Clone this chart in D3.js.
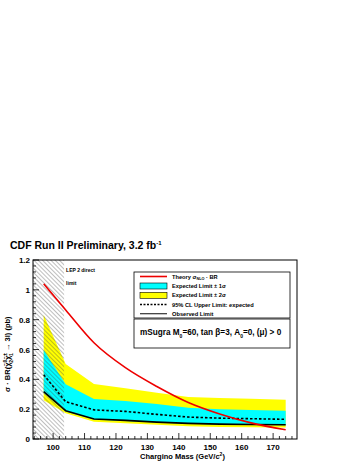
<!DOCTYPE html>
<html>
<head>
<meta charset="utf-8">
<script src="https://cdn.jsdelivr.net/npm/d3@7"></script>
<style>
  body { margin: 0; background: #fff; }
  text { font-family: "Liberation Sans", Arial, sans-serif; font-weight: bold; }
</style>
</head>
<body>
<div id="chart"></div>
<script>
// chargino masses where limits were computed
const mass = [97, 104, 113, 123, 133, 143, 153, 163, 174];
const observed = [0.318, 0.19, 0.134, 0.125, 0.113, 0.105, 0.1, 0.097, 0.096];
const expected = [0.43, 0.25, 0.195, 0.185, 0.165, 0.147, 0.14, 0.136, 0.132];
const oneSigmaLow = [0.31, 0.185, 0.13, 0.12, 0.11, 0.102, 0.097, 0.094, 0.093];
const oneSigmaHigh = [0.597, 0.367, 0.268, 0.255, 0.235, 0.21, 0.2, 0.195, 0.19];
const twoSigmaLow = [0.26, 0.172, 0.116, 0.105, 0.095, 0.086, 0.08, 0.078, 0.077];
const twoSigmaHigh = [0.832, 0.503, 0.369, 0.34, 0.31, 0.282, 0.275, 0.27, 0.263];

// theory cross section x BR
const theoryMass = [97, 104, 113, 123, 133, 143, 153, 163, 174];
const theory = [1.04, 0.865, 0.645, 0.478, 0.352, 0.245, 0.168, 0.108, 0.062];

const lepLimit = 103.5;
const yTicks = [0, 0.2, 0.4, 0.6, 0.8, 1, 1.2];
const xTicks = [100, 110, 120, 130, 140, 150, 160, 170];

// Set up chart dimensions
const W = 357, H = 462;
const margin = { top: 260, right: 60, bottom: 23, left: 33 };
const width = W - margin.left - margin.right;
const height = H - margin.top - margin.bottom;

const svg = d3.select("#chart").append("svg")
    .attr("width", W)
    .attr("height", H);

// hatch pattern for the LEP region
const defs = svg.append("defs");
const pat = defs.append("pattern")
    .attr("id", "hatch")
    .attr("patternUnits", "userSpaceOnUse")
    .attr("width", 3).attr("height", 3)
    .attr("patternTransform", "rotate(-45)");
pat.append("line")
    .attr("x1", 0).attr("y1", 0).attr("x2", 0).attr("y2", 3)
    .attr("stroke", "#444").attr("stroke-width", 0.7);

const g = svg.append("g")
    .attr("transform", "translate(" + margin.left + "," + margin.top + ")");

// Set up scales
const x = d3.scaleLinear().domain([93.6, 177.6]).range([0, width]);
const y = d3.scaleLinear().domain([0, 1.2]).range([height, 0]);

const pts = mass.map((m, i) => ({ m, i }));

function band(lo, hi) {
    return d3.area()
        .x(d => x(d.m))
        .y0(d => y(lo[d.i]))
        .y1(d => y(hi[d.i]));
}

g.append("path").datum(pts).attr("d", band(twoSigmaLow, twoSigmaHigh)).attr("fill", "#ffff00");
g.append("path").datum(pts).attr("d", band(oneSigmaLow, oneSigmaHigh)).attr("fill", "#00ffff");

// expected (dashed) and observed lines
g.append("path").datum(pts)
    .attr("d", d3.line().x(d => x(d.m)).y(d => y(expected[d.i])))
    .attr("fill", "none").attr("stroke", "#000").attr("stroke-width", 1.6)
    .attr("stroke-dasharray", "2.5,2");
g.append("path").datum(pts)
    .attr("d", d3.line().x(d => x(d.m)).y(d => y(observed[d.i])))
    .attr("fill", "none").attr("stroke", "#000").attr("stroke-width", 1.6);

// LEP hatched region
g.append("rect")
    .attr("x", 0).attr("y", 0)
    .attr("width", x(lepLimit)).attr("height", height)
    .attr("fill", "url(#hatch)");

// theory curve
g.append("path").datum(theoryMass.map((m, i) => ({ m, v: theory[i] })))
    .attr("d", d3.line().x(d => x(d.m)).y(d => y(d.v)).curve(d3.curveMonotoneX))
    .attr("fill", "none").attr("stroke", "#ee0000").attr("stroke-width", 1.6);

g.append("text").attr("x", x(lepLimit) + 2).attr("y", 12)
    .style("font-size", "5px").text("LEP 2 direct");
g.append("text").attr("x", x(lepLimit) + 2).attr("y", 25)
    .style("font-size", "5px").text("limit");

// frame
g.append("rect").attr("width", width).attr("height", height)
    .attr("fill", "none").attr("stroke", "#000").attr("stroke-width", 1);

// ticks inside the frame
const yMinor = d3.range(0, 1.2001, 0.04);
g.selectAll(".ymin").data(yMinor).enter().append("line")
    .attr("x1", 0).attr("x2", d => (Math.abs(d / 0.2 - Math.round(d / 0.2)) < 1e-6 ? 6 : 3))
    .attr("y1", d => y(d)).attr("y2", d => y(d))
    .attr("stroke", "#000").attr("stroke-width", 0.8);
const xMinor = d3.range(94, 177, 2);
g.selectAll(".xmin").data(xMinor).enter().append("line")
    .attr("x1", d => x(d)).attr("x2", d => x(d))
    .attr("y1", height).attr("y2", d => height - (d % 10 === 0 ? 6 : 3))
    .attr("stroke", "#000").attr("stroke-width", 0.8);

g.selectAll(".ylab").data(yTicks).enter().append("text")
    .attr("x", -3).attr("y", d => y(d) + 3)
    .attr("text-anchor", "end").style("font-size", "8px")
    .text(d => d3.format("~g")(d));
g.selectAll(".xlab").data(xTicks).enter().append("text")
    .attr("x", d => x(d)).attr("y", height + 11)
    .attr("text-anchor", "middle").style("font-size", "8px")
    .text(d => d);

// axis titles
const xt = g.append("text").attr("x", 107).attr("y", height + 20).style("font-size", "7.5px");
xt.append("tspan").text("Chargino Mass (GeV/c");
xt.append("tspan").attr("dy", -3).style("font-size", "5px").text("2");
xt.append("tspan").attr("dy", 3).text(")");

const yt = svg.append("text")
    .attr("transform", "translate(10," + (margin.top + 132) + ") rotate(-90)")
    .style("font-size", "7.5px");
yt.append("tspan").text("σ · BR(χ\u0303");
yt.append("tspan").attr("dy", -3).style("font-size", "5px").text("0");
yt.append("tspan").attr("dx", -3).attr("dy", 6).style("font-size", "5px").text("2");
yt.append("tspan").attr("dy", -3).text("χ\u0303");
yt.append("tspan").attr("dy", -3).style("font-size", "5px").text("±");
yt.append("tspan").attr("dx", -3).attr("dy", 6).style("font-size", "5px").text("1");
yt.append("tspan").attr("dy", -3).text(" → 3l) (pb)");

// title
const title = svg.append("text").attr("x", 10).attr("y", 249).style("font-size", "10.5px");
title.append("tspan").text("CDF Run II Preliminary, 3.2 fb");
title.append("tspan").attr("dy", -4).style("font-size", "6px").text("-1");

// legend
const lx = 134 - margin.left, ly = 272 - margin.top;
const leg = g.append("g").attr("transform", "translate(" + lx + "," + ly + ")");
leg.append("rect").attr("width", 156).attr("height", 46)
    .attr("fill", "#fff").attr("stroke", "#000").attr("stroke-width", 0.8);
const rowY = [4.5, 14, 23.3, 32.5, 41.7];
leg.append("line").attr("x1", 6).attr("x2", 33).attr("y1", rowY[0]).attr("y2", rowY[0])
    .attr("stroke", "#ee0000").attr("stroke-width", 1.6);
leg.append("rect").attr("x", 6).attr("y", rowY[1] - 3).attr("width", 27).attr("height", 6)
    .attr("fill", "#00ffff").attr("stroke", "#000").attr("stroke-width", 0.6);
leg.append("rect").attr("x", 6).attr("y", rowY[2] - 3).attr("width", 27).attr("height", 6)
    .attr("fill", "#ffff00").attr("stroke", "#000").attr("stroke-width", 0.6);
leg.append("line").attr("x1", 6).attr("x2", 33).attr("y1", rowY[3]).attr("y2", rowY[3])
    .attr("stroke", "#000").attr("stroke-width", 1.4).attr("stroke-dasharray", "2,1.5");
leg.append("line").attr("x1", 6).attr("x2", 33).attr("y1", rowY[4]).attr("y2", rowY[4])
    .attr("stroke", "#333").attr("stroke-width", 1.2);

const fs = "5.7px";
const lt0 = leg.append("text").attr("x", 38).attr("y", rowY[0] + 2).style("font-size", fs);
lt0.append("tspan").text("Theory σ");
lt0.append("tspan").attr("dy", 1.5).style("font-size", "3.8px").text("NLO");
lt0.append("tspan").attr("dy", -1.5).text(" · BR");
leg.append("text").attr("x", 38).attr("y", rowY[1] + 2).style("font-size", fs).text("Expected Limit ± 1σ");
leg.append("text").attr("x", 38).attr("y", rowY[2] + 2).style("font-size", fs).text("Expected Limit ± 2σ");
leg.append("text").attr("x", 38).attr("y", rowY[3] + 2).style("font-size", fs).text("95% CL Upper Limit: expected");
leg.append("text").attr("x", 38).attr("y", rowY[4] + 2).style("font-size", fs).text("Observed Limit");

// model box
const box = g.append("g").attr("transform", "translate(" + lx + "," + (319 - margin.top) + ")");
box.append("rect").attr("width", 156).attr("height", 29)
    .attr("fill", "#fff").attr("stroke", "#000").attr("stroke-width", 0.8);
const bt = box.append("text").attr("x", 6).attr("y", 16).style("font-size", "8.2px");
bt.append("tspan").text("mSugra M");
bt.append("tspan").attr("dy", 2.5).style("font-size", "5px").text("0");
bt.append("tspan").attr("dy", -2.5).text("=60, tan β=3, A");
bt.append("tspan").attr("dy", 2.5).style("font-size", "5px").text("0");
bt.append("tspan").attr("dy", -2.5).text("=0, (μ) > 0");
</script>
</body>
</html>
